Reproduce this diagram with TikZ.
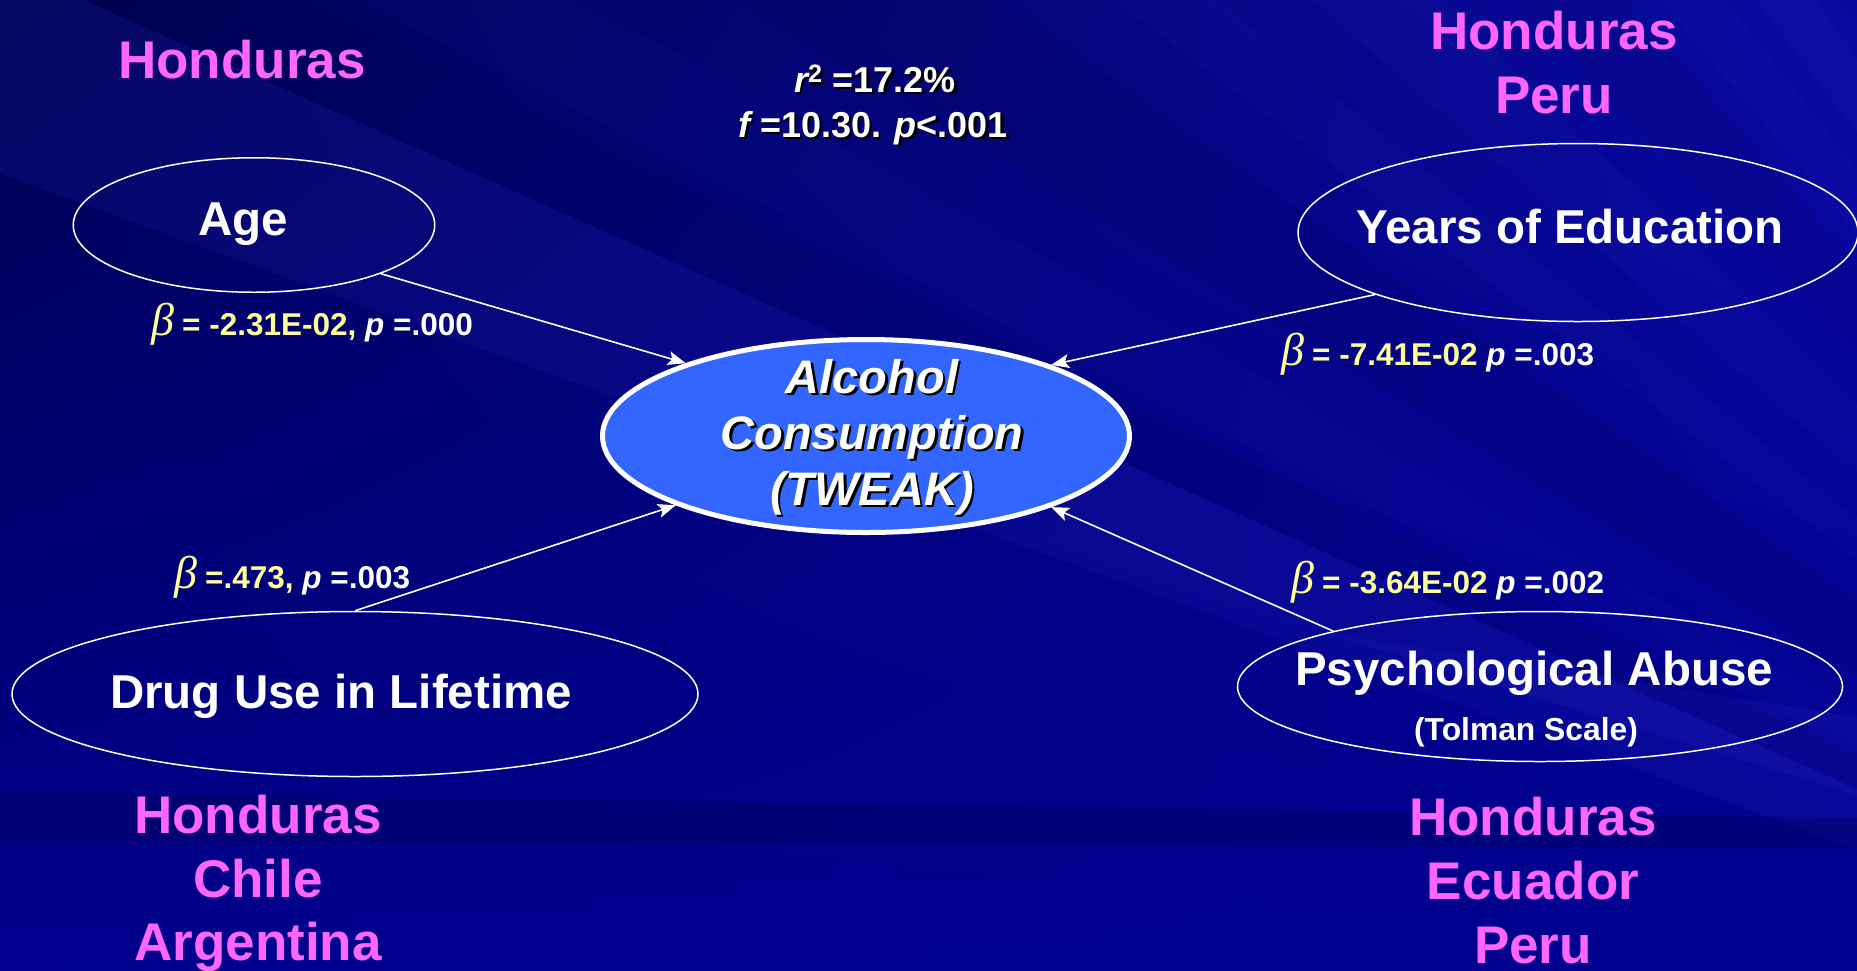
\documentclass[tikz,border=0pt]{standalone}
\usepackage{fontspec}
\setmainfont{Liberation Sans}
\newfontfamily\greekfont{Liberation Serif}
\usetikzlibrary{arrows.meta,shapes.geometric,shadings}

\definecolor{bgbase}{HTML}{00008E}
\definecolor{bgdark}{HTML}{000050}
\definecolor{bgright}{HTML}{0A0AA4}
\definecolor{raylight}{HTML}{3A3AD8}
\definecolor{raydark}{HTML}{000040}
\definecolor{countrypink}{HTML}{FF66FF}
\definecolor{coefyellow}{HTML}{FFFF99}
\definecolor{outcomeblue}{HTML}{3366FF}

% text with a dark drop shadow
\newcommand\dropshadowed[1]{\leavevmode\rlap{\kern2.5pt\raisebox{-2.5pt}{\color{black}#1}}#1}
% italic beta used in the coefficient labels
\newcommand\betasym{{\greekfont\mdseries\itshape\fontsize{46}{46}\selectfont β}}

\begin{document}
\begin{tikzpicture}[x=1pt,y=-1pt,
  country/.style={text=countrypink, font=\fontsize{53}{64}\selectfont\bfseries, anchor=base, inner sep=0pt},
  varname/.style={text=white, font=\fontsize{47.5}{57}\selectfont\bfseries, anchor=base, inner sep=0pt},
  outname/.style={text=white, font=\fontsize{47}{56}\selectfont\bfseries\itshape, anchor=base, inner sep=0pt},
  stat/.style={text=white, font=\fontsize{36}{44}\selectfont\bfseries, anchor=base, inner sep=0pt},
  coef/.style={text=white, font=\fontsize{31.5}{38}\selectfont\bfseries, anchor=base west, inner sep=0pt},
  var/.style={ellipse, draw=white, line width=1.5pt, inner sep=0pt},
  outcome/.style={ellipse, draw=white, fill=outcomeblue, line width=5pt, inner sep=0pt},
  effect/.style={draw=white, line width=1.6pt, -{Stealth[length=18pt,width=14pt,inset=4pt]}},
  ray/.style={fill=raylight},
  shade ray/.style={fill=raydark}
]
\useasboundingbox (0,0) rectangle (1857,970);
\clip (0,0) rectangle (1857,970);

% ---- background ----
\shade[upper left=bgdark, upper right=bgright, lower left=bgbase, lower right=bgbase]
  (0,0) rectangle (1857,970);
\coordinate (F) at (2600,1120);
\foreach \a/\b/\st/\op in {
   20/24/ray/.12, 24/26/shade ray/.12, 26.5/29/ray/.05, 31/35/shade ray/.12,
   37/39/ray/.06, 41/44/ray/.07, 46/49/shade ray/.1, 50/52/ray/.08,
   53/55/ray/.1, 56/58/shade ray/.1, 59/61/ray/.08, 62/65/shade ray/.08}
  \fill[\st, opacity=\op] (F) -- +(180+\a:4000) -- +(180+\b:4000) -- cycle;
\fill[raylight, opacity=.12] (1320,632) -- (1857,717) -- (1857,795) -- cycle;
\fill[raydark, opacity=.25] (0,793) -- (700,802) -- (1857,818) -- (1857,848) -- (0,842) -- cycle;

% ---- variables ----
\node[var, minimum width=361.5pt, minimum height=134.5pt] (age) at (254,225) {};
\node[var, minimum width=560pt, minimum height=178pt] (years) at (1578,232.5) {};
\node[var, minimum width=686pt, minimum height=165pt] (drug) at (355,694) {};
\node[var, minimum width=605pt, minimum height=150pt] (psych) at (1540,686.5) {};
\node[outcome, minimum width=527pt, minimum height=193pt] (alc) at (866,436) {};

\node[varname] (agetxt) at (243,235) {Age};
\node[varname] (yearstxt) at (1570,243) {Years of Education};
\node[varname] (drugtxt) at (341,708) {Drug Use in Lifetime};
\node[varname] (psychtxt) at (1534,685) {Psychological Abuse};
\node[varname, font=\fontsize{31.8}{38}\selectfont\bfseries] (tolmantxt) at (1526,740) {(Tolman Scale)};

\node[outname] (alc1) at (872,393) {\dropshadowed{Alcohol}};
\node[outname] (alc2) at (872,449) {\dropshadowed{Consumption}};
\node[outname] (alc3) at (872,505) {\dropshadowed{(TWEAK)}};

% ---- model fit ----
\node[stat] (rsq) at (875,92) {\dropshadowed{{\itshape r}\textsuperscript{2} =17.2\%}};
\node[stat] (ftest) at (873,137) {\dropshadowed{{\itshape f} =10.30. {\itshape p}<.001}};

% ---- paths ----
\draw[effect] (age.-21) -- (alc.158.8);
\draw[effect] (years.197.5) -- (alc.21.1);
\draw[effect] (drug.90) -- (alc.200.7);
\draw[effect] (psych.165.8) -- (alc.-21.7);

% ---- coefficients ----
\node[coef] (agecoef) at (182,335) {\llap{\color{coefyellow}\betasym\hspace{8pt}}{\color{coefyellow}= -2.31E-02,} {\itshape p} =.000};
\node[coef] (yearscoef) at (1312,365) {\llap{\color{coefyellow}\betasym\hspace{8pt}}{\color{coefyellow}= -7.41E-02} {\itshape p} =.003};
\node[coef] (drugcoef) at (205,588) {\llap{\color{coefyellow}\betasym\hspace{8pt}}{\color{coefyellow}=.473,} {\itshape p} =.003};
\node[coef] (psychcoef) at (1322,593) {\llap{\color{coefyellow}\betasym\hspace{8pt}}{\color{coefyellow}= -3.64E-02} {\itshape p} =.002};

% ---- countries ----
\node[country] (ctl) at (242,78) {Honduras};
\node[country] (ctr1) at (1554,49) {Honduras};
\node[country] (ctr2) at (1554,113) {Peru};
\node[country] (cbl1) at (258,833) {Honduras};
\node[country] (cbl2) at (258,897) {Chile};
\node[country] (cbl3) at (258,960) {Argentina};
\node[country] (cbr1) at (1533,835) {Honduras};
\node[country] (cbr2) at (1533,899) {Ecuador};
\node[country] (cbr3) at (1533,963) {Peru};
\end{tikzpicture}
\end{document}
